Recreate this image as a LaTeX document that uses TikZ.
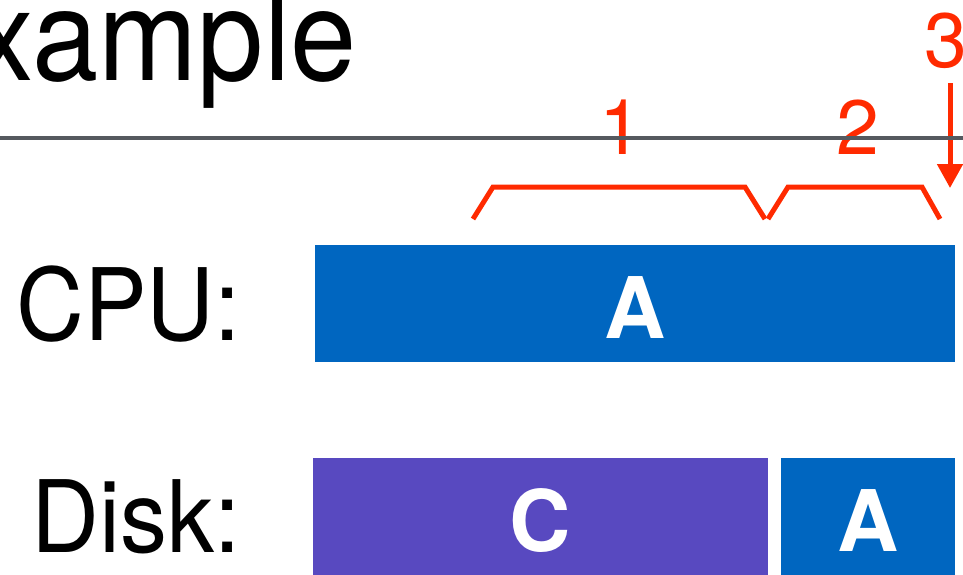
\documentclass[tikz,border=0pt]{standalone}
\usepackage{fontspec}
\setmainfont{TeX Gyre Heros}
\usetikzlibrary{arrows.meta}
\definecolor{cpublue}{RGB}{0,102,192}
\definecolor{diskpurple}{RGB}{88,73,192}
\definecolor{markred}{RGB}{255,42,0}
\definecolor{rulegray}{RGB}{85,89,95}
\begin{document}
\begin{tikzpicture}[x=1pt,y=-1pt,
  txt/.style={inner sep=0pt, anchor=base},
  title/.style={txt, anchor=base east, font=\fontsize{128}{128}\selectfont, xscale=0.93, transform shape},
  rowlabel/.style={txt, anchor=base east, font=\fontsize{100}{100}\selectfont, xscale=0.94, transform shape},
  num/.style={txt, text=markred, font=\fontsize{77}{77}\selectfont},
  bar/.style={inner sep=0pt, minimum height=117pt, text=white,
    font=\bfseries\fontsize{85}{85}\selectfont, text height=69pt, text depth=0pt},
  bracket/.style={draw=markred, line width=5pt, line join=miter},
  pointer/.style={draw=markred, line width=5pt, -{Triangle[length=24pt,width=25pt]}}]
\useasboundingbox (0,0) rectangle (963,574);

% heading, partly outside the page on the left
\node[title] (heading) at (357,80) {Example};

% interval numbers and their marks
\node[num] (one) at (621,154) {1};
\node[num] (two) at (858,154) {2};
\node[num] (three) at (946,67) {3};
\coordinate (arrowtop) at (950,83);
\coordinate (arrowtip) at (950,188);
\draw[pointer] (arrowtop) -- (arrowtip);
\draw[bracket] (473,219) -- (493,187) -- (745,187) -- (765,219);
\draw[bracket] (768,219) -- (788,187) -- (922,187) -- (940,219);

% title rule
\draw[rulegray, line width=4pt] (0,138) -- (963,138);

% row labels
\node[rowlabel] (cpulabel) at (241,340) {CPU:};
\node[rowlabel] (disklabel) at (241,552) {Disk:};

% timeline bars
\node[bar, fill=cpublue, minimum width=640pt] (cpuA) at (635,303.5) {A};
\node[bar, fill=diskpurple, minimum width=455pt] (diskC) at (540.5,516.5) {C};
\node[bar, fill=cpublue, minimum width=174pt] (diskA) at (868,516.5) {A};
\end{tikzpicture}
\end{document}
